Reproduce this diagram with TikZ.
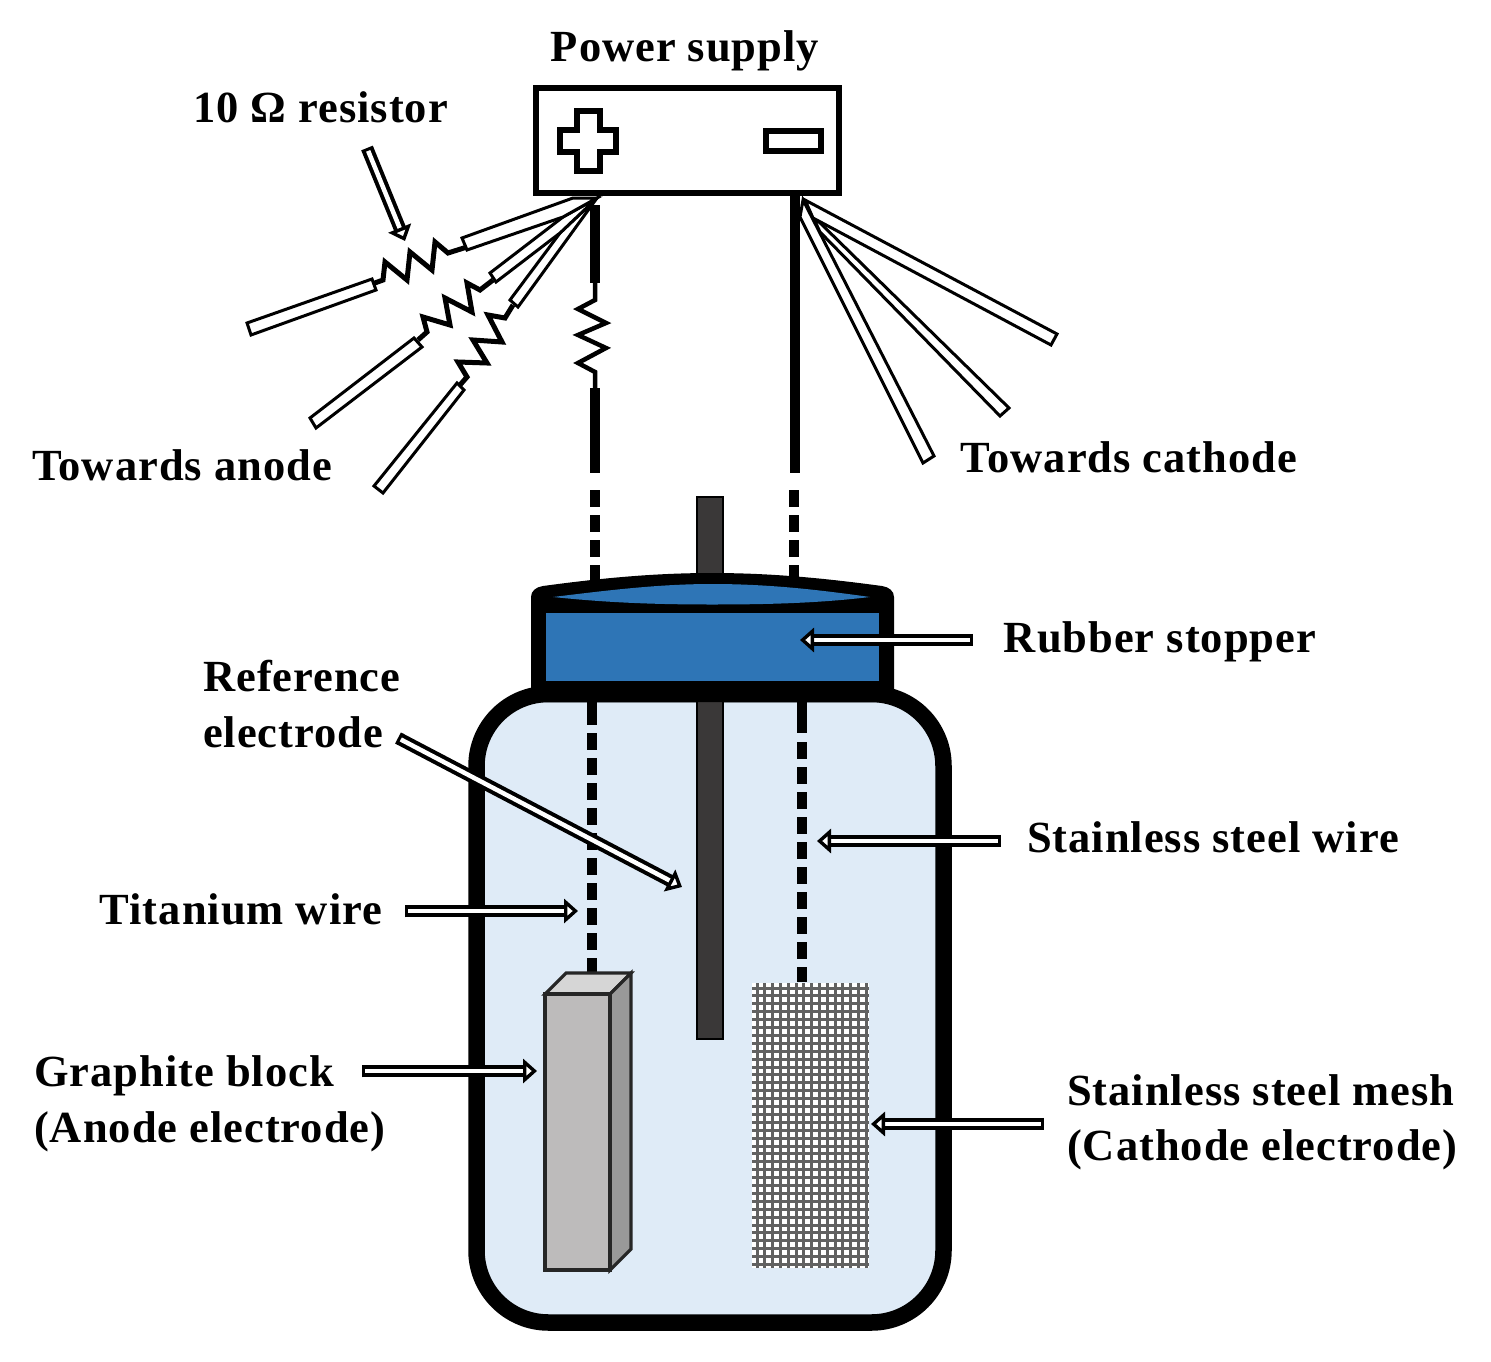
\documentclass[tikz,border=0pt]{standalone}
\usepackage{fontspec}
\setmainfont{Liberation Serif}[LetterSpace=2.2]
\usetikzlibrary{arrows.meta,calc}
\definecolor{liquid}{HTML}{DFEBF7}
\definecolor{rubber}{HTML}{2E75B6}
\definecolor{rod}{HTML}{3A3838}
\definecolor{gfront}{HTML}{BDBBBB}
\definecolor{gtop}{HTML}{D6D6D6}
\definecolor{gside}{HTML}{999999}
\tikzset{
  lab/.style={font=\fontsize{44.5}{50}\selectfont\bfseries,inner sep=0pt,text=black},
  harrow/.style={double=white,double distance=4.5pt,line width=4pt,
    {Bar[width=12.5pt,line width=3pt,sep=0pt]}-{Triangle[length=14pt,width=24pt,fill=white,line width=3.4pt,sep=0pt]}},
  bar/.style={draw=black,fill=white,line width=3pt,line join=miter},
  zig/.style={draw=black,line width=5pt,line join=miter},
  thickwire/.style={draw=black,line width=10pt},
  dashwire/.style={draw=black,line width=10pt,dash pattern=on 16.5pt off 8.5pt},
  meshline/.style={draw=black!62,line width=3pt}
}
\begin{document}
\begin{tikzpicture}[x=1pt,y=-1pt]
\useasboundingbox (0,0) rectangle (1491,1362);
% power supply
\node[draw=black,line width=6.6pt,minimum width=303pt,minimum height=105pt,inner sep=0pt,fill=white] (psu) at (687.5,140.5) {};
\draw[black,line width=6pt,line join=miter] (577,111)--(600,111)--(600,130)--(616,130)--(616,152)--(600,152)--(600,171)--(577,171)--(577,152)--(560,152)--(560,130)--(577,130)--cycle;
\node[draw=black,line width=6pt,minimum width=55pt,minimum height=20pt,inner sep=0pt] (minus) at (793.5,141) {};
% anode thick wire and resistor
\coordinate (aTop) at (595,205);
\coordinate (aMid1) at (595,283);
\coordinate (aMid2) at (595,388);
\coordinate (aBot) at (595,473);
\draw[thickwire] (aTop)--(aMid1);
\draw[zig,line width=4.5pt] (aMid1)--(595,300)--(578,309)--(606,323)--(578,335)--(606,348)--(578,363)--(595,372)--(aMid2);
\draw[thickwire] (aMid2)--(aBot);
% left fan
\coordinate (apexL) at (597,198);
\draw[bar] (apexL)--(560,233)--(510,300)--(518,307)--cycle;
\draw[bar] (apexL)--(563,217)--(490,273)--(496,282)--(560,233)--cycle;
\draw[bar] (apexL)--(573,198)--(462,238)--(467,250)--(563,217)--cycle;
\draw[zig] (467,247)--(448,253)--(435,242)--(432,270)--(410,252)--(407,280)--(385,262)--(383,280)--(372,284);
\draw[bar] (372,279)--(376,290)--(251,335)--(247,323)--cycle;
\draw[zig] (493,280)--(480,290)--(467,283)--(472,312)--(445,298)--(450,325)--(423,317)--(427,332)--(418,340);
\draw[bar] (414,338)--(422,347)--(316,428)--(310,418)--cycle;
\draw[zig] (513,305)--(505,318)--(488,315)--(502,342)--(473,340)--(487,363)--(458,362)--(467,377)--(460,385);
\draw[bar] (457,383)--(464,390)--(383,493)--(374,486)--cycle;
% cathode wire and fan
\coordinate (cTop) at (795,196);
\coordinate (cBot) at (795,473);
\draw[thickwire] (cTop)--(cBot);
\draw[bar] (803,200)--(800,217)--(923,463)--(934,456)--cycle;
\draw[bar] (805,200)--(820,232)--(1000,416)--(1009,408)--(815,218)--cycle;
\draw[bar] (805,200)--(813,218)--(1051,345)--(1057,334)--cycle;
% dashed wires above cap
\coordinate (aDashA) at (595,490);
\coordinate (aDashB) at (595,585);
\coordinate (cDashA) at (794,490);
\coordinate (cDashB) at (794,585);
\draw[dashwire] (aDashA)--(aDashB);
\draw[dashwire] (cDashA)--(cDashB);
% bottle
\draw[black,fill=liquid,line width=16.5pt,rounded corners=72pt] (476.5,694) rectangle (943.5,1322.5);
% reference electrode rod
\node[draw=black,line width=1.5pt,fill=rod,minimum width=26pt,minimum height=542pt,inner sep=0pt] (refrod) at (710,768) {};
% neck and stopper
\fill[black] (531,702)--(531,597) .. controls (531,591) and (536,587) .. (543,586) .. controls (595,579) and (650,573) .. (712,573) .. controls (775,573) and (830,579) .. (882,586) .. controls (889,587) and (894,591) .. (894,597)--(894,702)--cycle;
\fill[rubber] (546,613) rectangle (879,681);
\fill[rubber] (553,597) .. controls (610,590) and (660,584) .. (712,584) .. controls (770,584) and (820,590) .. (870,597) .. controls (820,603) and (770,604.5) .. (712,604.5) .. controls (660,604.5) and (610,603) .. (553,597)--cycle;
% inner wires
\coordinate (tiA) at (592,702);
\coordinate (tiB) at (592,725);
\coordinate (tiC) at (592,733);
\coordinate (tiD) at (592,974);
\coordinate (ssA) at (802,702);
\coordinate (ssB) at (802,733);
\coordinate (ssC) at (802,742);
\coordinate (ssD) at (802,982);
\draw[thickwire] (tiA)--(tiB);
\draw[dashwire] (tiC)--(tiD);
\draw[thickwire] (ssA)--(ssB);
\draw[dashwire] (ssC)--(ssD);
% graphite block
\draw[draw=black!85,line width=3.2pt,fill=gtop,line join=miter] (545,994)--(566,973)--(631,973)--(610,994)--cycle;
\draw[draw=black!85,line width=3.2pt,fill=gside,line join=miter] (610,994)--(631,973)--(631,1249)--(610,1270)--cycle;
\draw[draw=black!85,line width=3.2pt,fill=gfront] (545,994) rectangle (610,1270);
% mesh
\fill[white] (752,983) rectangle (869,1268);
\foreach \i in {0,...,14} {\draw[meshline] (757+\i*7.8,983)--(757+\i*7.8,1268);}
\foreach \j in {0,...,35} {\draw[meshline] (752,988+\j*7.9)--(869,988+\j*7.9);}
% labels
\node[lab,anchor=base] (lPower) at (685,62) {Power supply};
\node[lab,anchor=base west] (lRes) at (193,123) {10 Ω resistor};
\node[lab,anchor=base] (lAnode) at (182,480) {Towards anode};
\node[lab,anchor=base] (lCath) at (1129,472) {Towards cathode};
\node[lab,anchor=base] (lRubber) at (1160,652) {Rubber stopper};
\node[lab,anchor=base west] (lRef1) at (203,691) {Reference};
\node[lab,anchor=base west] (lRef2) at (203,747) {electrode};
\node[lab,anchor=base] (lTi) at (241,924) {Titanium wire};
\node[lab,anchor=base] (lSS) at (1213,852) {Stainless steel wire};
\node[lab,anchor=base west] (lG1) at (34,1086) {Graphite block};
\node[lab,anchor=base west] (lG2) at (34,1142) {(Anode electrode)};
\node[lab,anchor=base west] (lM1) at (1067,1105) {Stainless steel mesh};
\node[lab,anchor=base west] (lM2) at (1067,1160) {(Cathode electrode)};
% pointer arrows
\coordinate (pResA) at (367,148); \coordinate (pResB) at (405,241);
\coordinate (pRubA) at (973,640); \coordinate (pRubB) at (800,640);
\coordinate (pRefA) at (398,738); \coordinate (pRefB) at (682,887);
\coordinate (pTiA) at (405,911); \coordinate (pTiB) at (578,911);
\coordinate (pSSA) at (1001,841); \coordinate (pSSB) at (817,841);
\coordinate (pGA) at (362,1071); \coordinate (pGB) at (537,1071);
\coordinate (pMA) at (1044,1124); \coordinate (pMB) at (871,1124);
\foreach \a/\b in {pResA/pResB,pRubA/pRubB,pRefA/pRefB,pTiA/pTiB,pSSA/pSSB,pGA/pGB,pMA/pMB} {\draw[harrow] (\a)--(\b);}
\end{tikzpicture}
\end{document}
